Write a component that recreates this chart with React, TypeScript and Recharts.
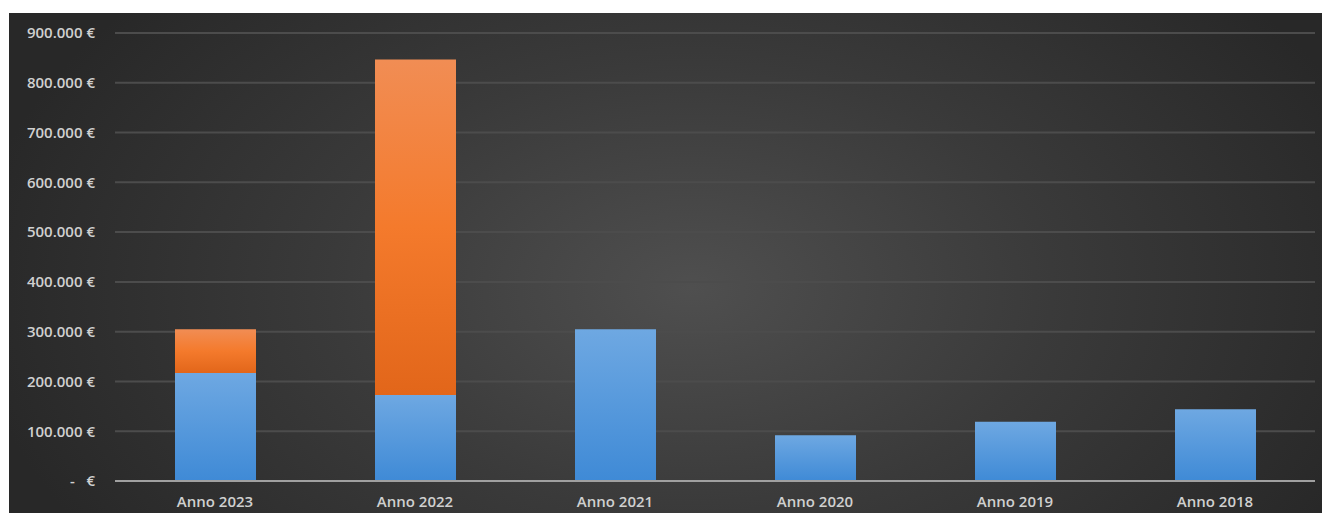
import { BarChart, Bar, XAxis, YAxis, CartesianGrid } from "recharts";

const anni = ["Anno 2023", "Anno 2022", "Anno 2021", "Anno 2020", "Anno 2019", "Anno 2018"];
const quotaBlu = [217000, 173000, 305000, 92000, 119000, 144000];
const quotaArancio = [88000, 674000, 0, 0, 0, 0];
const yTicks = [0, 100000, 200000, 300000, 400000, 500000, 600000, 700000, 800000, 900000];

const data = anni.map((name, i) => ({
  name,
  blu: quotaBlu[i],
  arancio: quotaArancio[i] || null,
}));

function formatEuro(v: number) {
  if (v === 0) return "-\u00a0\u00a0\u00a0€";
  return String(v).replace(/\B(?=(\d{3})+(?!\d))/g, ".") + " €";
}

const tickStyle = {
  fill: "#d0d0d0",
  fontSize: 15,
  fontWeight: 600,
  fontFamily: "'Open Sans', sans-serif",
};

export default function App() {
  return (
    <div style={{ position: "fixed", left: 0, top: 0, width: 1322, height: 515, background: "#ffffff" }}>
      <div
        style={{
          position: "absolute",
          left: 9,
          top: 13,
          width: 1313,
          height: 500,
          background: "radial-gradient(ellipse 55% 90% at 52% 55%, #4f4f4f 0%, #3a3a3a 50%, #282828 100%)",
        }}
      >
        <BarChart
          width={1313}
          height={500}
          data={data}
          margin={{ top: 20, right: 7, left: 0, bottom: 0 }}
        >
          <defs>
            <linearGradient id="gradBlu" x1="0" y1="0" x2="0" y2="1">
              <stop offset="0%" stopColor="#6ea8e2" />
              <stop offset="100%" stopColor="#3f8ad6" />
            </linearGradient>
            <linearGradient id="gradArancio" x1="0" y1="0" x2="0" y2="1">
              <stop offset="0%" stopColor="#f18d54" />
              <stop offset="50%" stopColor="#f47a2c" />
              <stop offset="100%" stopColor="#e2661a" />
            </linearGradient>
          </defs>
          <CartesianGrid vertical={false} stroke="#4c4c4c" strokeWidth={2} />
          <XAxis
            dataKey="name"
            height={32}
            tick={tickStyle}
            tickLine={false}
            axisLine={{ stroke: "#a0a0a0", strokeWidth: 2 }}
            tickSize={0}
            tickMargin={15}
          />
          <YAxis
            width={106}
            domain={[0, 900000]}
            ticks={yTicks}
            tickFormatter={formatEuro}
            tick={tickStyle}
            tickLine={false}
            axisLine={false}
            tickSize={0}
            tickMargin={20}
            interval={0}
          />
          <Bar dataKey="blu" stackId="a" fill="url(#gradBlu)" barSize={81} isAnimationActive={false} />
          <Bar dataKey="arancio" stackId="a" fill="url(#gradArancio)" barSize={81} isAnimationActive={false} />
        </BarChart>
      </div>
    </div>
  );
}
